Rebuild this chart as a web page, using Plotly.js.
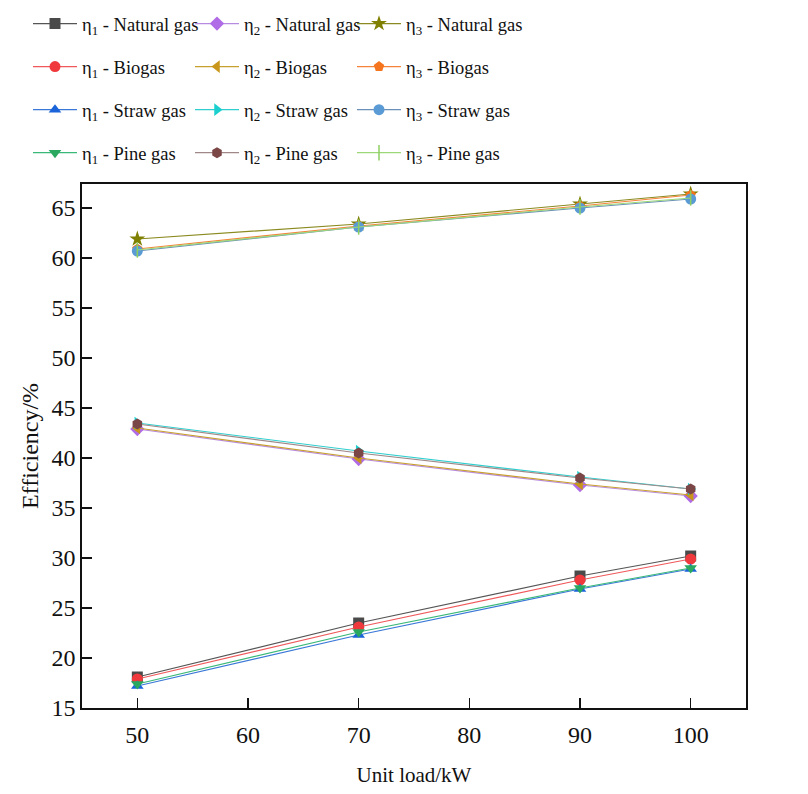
<!DOCTYPE html>
<html>
<head>
<meta charset="utf-8">
<script src="https://cdn.plot.ly/plotly-3.0.1.min.js"></script>
<style>html,body{margin:0;padding:0;background:#fff;}#chart{width:808px;height:794px;}</style>
</head>
<body>
<div id="chart"></div>
<script>
const loads = [50, 70, 90, 100];
const gases = ["Natural gas", "Biogas", "Straw gas", "Pine gas"];

// η1 values
const eta1NaturalGas = [18.1, 23.5, 28.2, 30.2];
const eta1Biogas     = [17.9, 23.1, 27.8, 29.9];
const eta1StrawGas   = [17.2, 22.3, 26.9, 28.9];
const eta1PineGas    = [17.4, 22.6, 27.0, 29.0];
// η2 values
const eta2NaturalGas = [42.9, 39.9, 37.3, 36.2];
const eta2Biogas     = [43.0, 40.0, 37.4, 36.3];
const eta2StrawGas   = [43.5, 40.7, 38.1, 36.9];
const eta2PineGas    = [43.4, 40.5, 38.0, 36.9];
// η3 values
const eta3NaturalGas = [61.9, 63.4, 65.4, 66.4];
const eta3Biogas     = [60.9, 63.2, 65.2, 66.3];
const eta3StrawGas   = [60.7, 63.1, 65.0, 65.9];
const eta3PineGas    = [60.8, 63.1, 65.1, 66.0];

const yTicks = [15, 20, 25, 30, 35, 40, 45, 50, 55, 60, 65];
const xTicks = [50, 60, 70, 80, 90, 100];

const seriesDefs = [
  {eta: 1, gas: 0, y: eta1NaturalGas, color: "#4a4a4a", line: "#555555", symbol: "square"},
  {eta: 2, gas: 0, y: eta2NaturalGas, color: "#b06be6", line: "#b98be0", symbol: "diamond"},
  {eta: 3, gas: 0, y: eta3NaturalGas, color: "#7f7f00", line: "#8a8a20", symbol: "star"},
  {eta: 1, gas: 1, y: eta1Biogas, color: "#f0393c", line: "#f0595c", symbol: "circle"},
  {eta: 2, gas: 1, y: eta2Biogas, color: "#c8961a", line: "#c8a030", symbol: "triangle-left"},
  {eta: 3, gas: 1, y: eta3Biogas, color: "#f5741e", line: "#f5843a", symbol: "pentagon"},
  {eta: 1, gas: 2, y: eta1StrawGas, color: "#1a63d8", line: "#3a78d8", symbol: "triangle-up"},
  {eta: 2, gas: 2, y: eta2StrawGas, color: "#1ccfcf", line: "#30cfcf", symbol: "triangle-right"},
  {eta: 3, gas: 2, y: eta3StrawGas, color: "#5b9bd5", line: "#6a8fb8", symbol: "circle"},
  {eta: 1, gas: 3, y: eta1PineGas, color: "#2aa860", line: "#3ab878", symbol: "triangle-down"},
  {eta: 2, gas: 3, y: eta2PineGas, color: "#7a4646", line: "#a08888", symbol: "hexagon"},
  {eta: 3, gas: 3, y: eta3PineGas, color: "#8ccf60", line: "#9cd878", symbol: "line-ns"}
];

const FONT = "'Liberation Serif', 'DejaVu Serif', serif";

const traces = seriesDefs.map((s, i) => ({
  type: "scatter",
  mode: "lines+markers",
  x: loads,
  y: s.y,
  name: "\u03b7<sub>" + s.eta + "</sub> - " + gases[s.gas],
  legend: s.eta === 1 ? "legend" : ("legend" + s.eta),
  legendgroup: "g" + i,
  line: {color: s.line, width: 1.2},
  marker: {
    symbol: s.symbol,
    color: s.color,
    size: s.symbol === "star" ? 12 : 11,
    line: s.symbol === "line-ns" ? {color: s.color, width: 1.5} : {width: 0}
  }
}));

// plot area: left 82, top 184, width 664, height 524
function legendCol(xPx) {
  return {
    orientation: "v",
    xref: "paper", yref: "paper",
    x: (xPx - 82) / 664, y: 1 + (184 - 5) / 524,
    xanchor: "left", yanchor: "top",
    itemwidth: 44,
    traceorder: "grouped",
    tracegroupgap: 16,
    font: {family: FONT, size: 18.5, color: "#111"},
    bgcolor: "rgba(0,0,0,0)"
  };
}

const layout = {
  width: 808, height: 794,
  paper_bgcolor: "#ffffff", plot_bgcolor: "#ffffff",
  font: {family: FONT, size: 20, color: "#111"},
  margin: {l: 82, r: 62, t: 184, b: 86, autoexpand: false},
  showlegend: true,
  legend: legendCol(28),
  legend2: legendCol(190),
  legend3: legendCol(352),
  xaxis: {
    range: [45, 105],
    tickvals: xTicks,
    ticktext: xTicks.map(String),
    ticks: "inside", ticklen: 10, tickwidth: 1.5, tickcolor: "#111",
    showline: true, linecolor: "#111", linewidth: 1.8, mirror: true,
    showgrid: false, zeroline: false,
    ticklabelstandoff: 4,
    tickfont: {family: FONT, size: 24, color: "#111"},
    title: {text: "Unit load/kW", font: {family: FONT, size: 21, color: "#111"}}
  },
  yaxis: {
    range: [15, 67.4],
    tickvals: yTicks,
    ticktext: yTicks.map(String),
    ticks: "inside", ticklen: 10, tickwidth: 1.5, tickcolor: "#111",
    showline: true, linecolor: "#111", linewidth: 1.8, mirror: true,
    showgrid: false, zeroline: false,
    tickfont: {family: FONT, size: 24, color: "#111"},
    title: {text: "Efficiency/%", font: {family: FONT, size: 24, color: "#111"}, standoff: 6}
  }
};

Plotly.newPlot("chart", traces, layout, {displayModeBar: false, staticPlot: true});
</script>
</body>
</html>
